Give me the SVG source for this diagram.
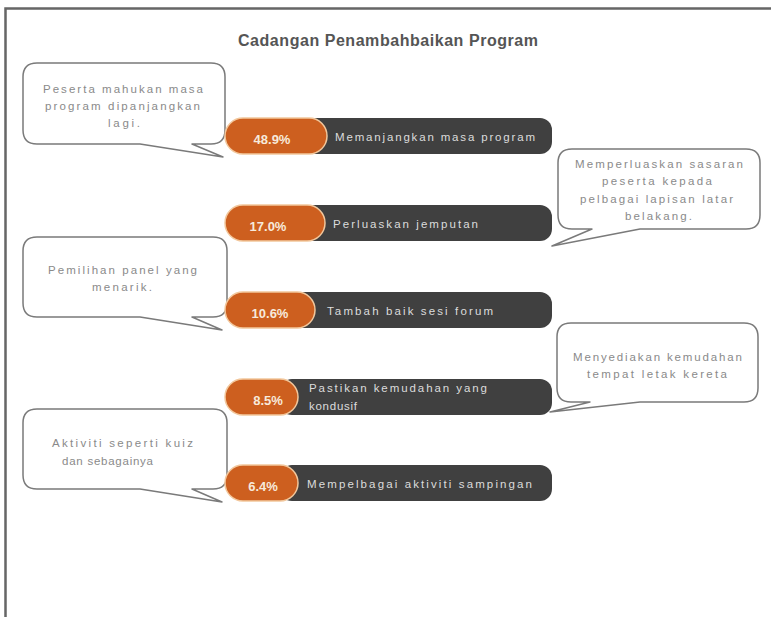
<svg xmlns="http://www.w3.org/2000/svg" width="771" height="617" viewBox="0 0 771 617">
<style>
.frame{stroke:#666;stroke-width:2.5;fill:none}
.title{font-family:"Liberation Sans",Arial,sans-serif;font-size:16px;font-weight:bold;fill:#555}
.call{fill:#fff;stroke:#7a7a7a;stroke-width:1.5;stroke-linejoin:round}
.ct{font-family:"Liberation Sans",Arial,sans-serif;font-size:11.5px;fill:#8a8a8a}
.dark{fill:#404040}
.pct{fill:#cd5f1f;stroke:#f2c79c;stroke-width:1.5}
.pt{font-family:"Liberation Sans",Arial,sans-serif;font-size:13px;font-weight:bold;fill:#f7eadb;text-anchor:middle}
.bt{font-family:"Liberation Sans",Arial,sans-serif;font-size:11.5px;fill:#dcdcdc}
</style>
<rect width="771" height="617" fill="#fff"/>
<path class="frame" d="M5.5,617 V8.5 H771"/>
<g id="title"><text class="title" x="238" y="46" textLength="300" lengthAdjust="spacing">Cadangan Penambahbaikan Program</text></g>

<g id="callout1">
<path class="call" d="M37,63 H211 Q225,63 225,77 V130 Q225,144 211,144 H192 L223,157 L140,144 H37 Q23,144 23,130 V77 Q23,63 37,63 Z"/>
<text class="ct" x="43" y="93" textLength="160" lengthAdjust="spacing">Peserta mahukan masa</text>
<text class="ct" x="45" y="110" textLength="155" lengthAdjust="spacing">program dipanjangkan</text>
<text class="ct" x="108" y="127" textLength="32" lengthAdjust="spacing">lagi.</text>
</g>

<g id="callout2">
<path class="call" d="M572,149 H746 Q760,149 760,163 V215 Q760,229 746,229 H640 L552,246 L592,229 H572 Q558,229 558,215 V163 Q558,149 572,149 Z"/>
<text class="ct" x="575" y="168" textLength="168" lengthAdjust="spacing">Memperluaskan sasaran</text>
<text class="ct" x="602" y="185" textLength="110" lengthAdjust="spacing">peserta kepada</text>
<text class="ct" x="580" y="203" textLength="153" lengthAdjust="spacing">pelbagai lapisan latar</text>
<text class="ct" x="625" y="220" textLength="67" lengthAdjust="spacing">belakang.</text>
</g>

<g id="callout3">
<path class="call" d="M37,237 H213 Q227,237 227,251 V303 Q227,317 213,317 H192 L222,330 L140,317 H37 Q23,317 23,303 V251 Q23,237 37,237 Z"/>
<text class="ct" x="48" y="274" textLength="149" lengthAdjust="spacing">Pemilihan panel yang</text>
<text class="ct" x="92" y="291" textLength="60" lengthAdjust="spacing">menarik.</text>
</g>

<g id="callout4">
<path class="call" d="M571,323 H744 Q758,323 758,337 V388 Q758,402 744,402 H640 L550,412 L590,402 H571 Q557,402 557,388 V337 Q557,323 571,323 Z"/>
<text class="ct" x="573" y="361" textLength="169" lengthAdjust="spacing">Menyediakan kemudahan</text>
<text class="ct" x="587" y="378" textLength="140" lengthAdjust="spacing">tempat letak kereta</text>
</g>

<g id="callout5">
<path class="call" d="M37,409 H213 Q227,409 227,423 V475 Q227,489 213,489 H192 L222,502 L140,489 H37 Q23,489 23,475 V423 Q23,409 37,409 Z"/>
<text class="ct" x="52" y="447" textLength="141" lengthAdjust="spacing">Aktiviti seperti kuiz</text>
<text class="ct" x="62" y="465" textLength="91" lengthAdjust="spacing">dan sebagainya</text>
</g>

<g id="bar1">
<rect class="dark" x="290" y="118" width="262" height="36" rx="12"/>
<rect class="pct" x="225" y="118" width="102" height="36" rx="18"/>
<text class="pt" x="272" y="144">48.9%</text>
<text class="bt" x="335" y="141" textLength="200" lengthAdjust="spacing">Memanjangkan masa program</text>
</g>

<g id="bar2">
<rect class="dark" x="290" y="205" width="262" height="36" rx="12"/>
<rect class="pct" x="225" y="205" width="100" height="36" rx="18"/>
<text class="pt" x="268" y="231">17.0%</text>
<text class="bt" x="333" y="228" textLength="145" lengthAdjust="spacing">Perluaskan jemputan</text>
</g>

<g id="bar3">
<rect class="dark" x="290" y="292" width="262" height="36" rx="12"/>
<rect class="pct" x="225" y="292" width="90" height="36" rx="18"/>
<text class="pt" x="270" y="318">10.6%</text>
<text class="bt" x="327" y="315" textLength="166" lengthAdjust="spacing">Tambah baik sesi forum</text>
</g>

<g id="bar4">
<rect class="dark" x="280" y="379" width="272" height="36" rx="12"/>
<rect class="pct" x="225" y="379" width="73" height="36" rx="18"/>
<text class="pt" x="268" y="405">8.5%</text>
<text class="bt" x="309" y="392" textLength="178" lengthAdjust="spacing">Pastikan kemudahan yang</text>
<text class="bt" x="309" y="410" textLength="48" lengthAdjust="spacing">kondusif</text>
</g>

<g id="bar5">
<rect class="dark" x="280" y="465" width="272" height="36" rx="12"/>
<rect class="pct" x="225" y="465" width="73" height="36" rx="18"/>
<text class="pt" x="263" y="491">6.4%</text>
<text class="bt" x="307" y="488" textLength="225" lengthAdjust="spacing">Mempelbagai aktiviti sampingan</text>
</g>

<g id="connectors"></g>
</svg>
